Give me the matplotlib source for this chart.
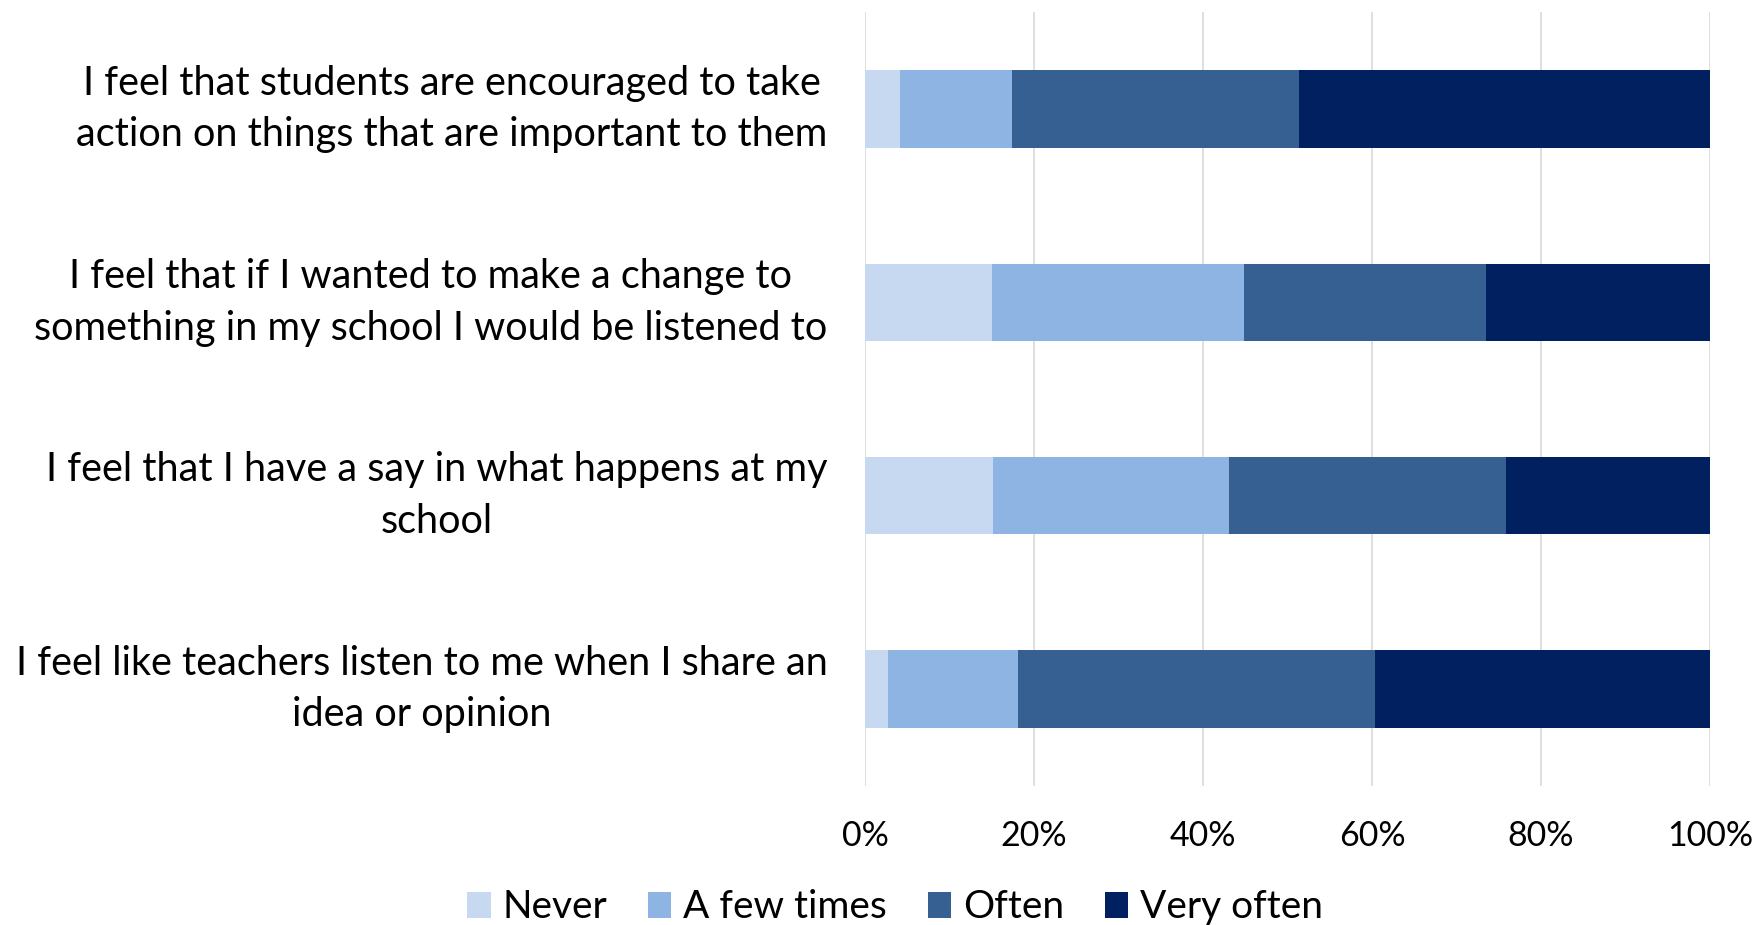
import matplotlib
matplotlib.use("Agg")
import matplotlib.pyplot as plt
from matplotlib.patches import Patch

categories = [
    "I feel that students are encouraged to take\naction on things that are important to them",
    "I feel that if I wanted to make a change to\nsomething in my school I would be listened to",
    "I feel that I have a say in what happens at my\nschool",
    "I feel like teachers listen to me when I share an\nidea or opinion",
]
series_names = ["Never", "A few times", "Often", "Very often"]
never = [4.1, 15.0, 15.1, 2.7]
few_times = [13.3, 29.8, 28.0, 15.4]
often = [34.0, 28.7, 32.8, 42.2]
very_often = [48.6, 26.5, 24.1, 39.7]
colors = ["#C6D9F1", "#8EB4E3", "#376092", "#002060"]
xticks = [0, 20, 40, 60, 80, 100]
xticklabels = ["0%", "20%", "40%", "60%", "80%", "100%"]

plt.rcParams['font.family'] = ['Lato', 'DejaVu Sans']

fig = plt.figure(figsize=(17.55, 9.25), dpi=100)
ax = fig.add_axes([0.4929, 0.1507, 0.4815, 0.8359])

values = [never, few_times, often, very_often]
ypos = list(range(len(categories)))
left = [0.0] * len(categories)
for name, vals, c in zip(series_names, values, colors):
    ax.barh(ypos, vals, left=left, height=0.4, color=c, label=name, zorder=3)
    left = [l + v for l, v in zip(left, vals)]

ax.set_ylim(len(categories) - 0.5, -0.5)
ax.set_xlim(0, 100)
ax.set_xticks(xticks)
ax.set_xticklabels(xticklabels, fontsize=24.5)
ax.set_yticks(ypos)
ax.set_yticklabels(categories, fontsize=28.5, ha='right', va='center',
                   multialignment='center', linespacing=1.48)
ax.tick_params(axis='y', length=0, pad=27)
ax.tick_params(axis='x', length=0, pad=25)
ax.grid(axis='x', color='#D9D9D9', linewidth=1.2, zorder=0)
for s in ax.spines.values():
    s.set_visible(False)

handles = [Patch(facecolor=c, edgecolor='none') for c in colors]
fig.legend(handles, series_names, loc='center', bbox_to_anchor=(0.51, 0.019),
           ncol=4, frameon=False, fontsize=28, handlelength=0.6, handleheight=0.65,
           handletextpad=0.3, columnspacing=1.05, borderpad=0)

fig.savefig("out.png", dpi=100, facecolor='white')
